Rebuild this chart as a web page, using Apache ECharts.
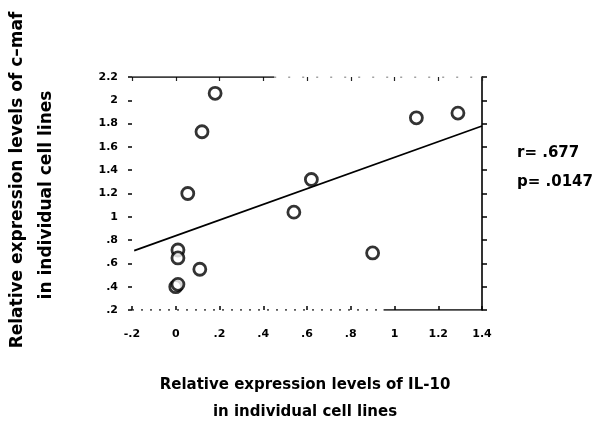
<!DOCTYPE html>
<html><head><meta charset="utf-8">
<script src="https://cdn.jsdelivr.net/npm/echarts@6/dist/echarts.min.js"></script>
<style>html,body{margin:0;padding:0;background:#fff}#c{width:610px;height:425px}</style>
</head><body><div id="c"></div>
<script>
// IL-10 (x) vs c-maf (y) expression levels
const ilX = [0.18, 0.12, 0.055, 0.54, 0.62, 0.01, 0.01, 0.0, 0.01, 0.11, 0.9, 1.1, 1.29];
const mafY = [2.06, 1.73, 1.2, 1.04, 1.32, 0.715, 0.647, 0.40, 0.42, 0.55, 0.69, 1.85, 1.89];
const fitX = [-0.19, 1.4];
const fitY = [0.71, 1.78];
const xTicks = [-0.2, 0, 0.2, 0.4, 0.6, 0.8, 1, 1.2, 1.4];
const yTicks = [0.2, 0.4, 0.6, 0.8, 1, 1.2, 1.4, 1.6, 1.8, 2, 2.2];
const statR = 'r= .677';
const statP = 'p= .0147';
const xTitle = ['Relative expression levels of IL-10', 'in individual cell lines'];
const yTitle = ['Relative expression levels of c\u2013maf', 'in individual cell lines'];

function fmt(v) {
  let r = Math.round(v * 10) / 10;
  let s = String(r);
  return s.replace(/^0\./, '.').replace(/^-0\./, '-.');
}
const pts = ilX.map((x, i) => [x, mafY[i]]);
const font = '"DejaVu Sans", "Liberation Sans", Arial, sans-serif';
const ink = '#000';
const chart = echarts.init(document.getElementById('c'), null, {renderer: 'canvas'});
chart.setOption({
  animation: false,
  backgroundColor: '#fff',
  grid: {left: 132, right: 128, top: 77, bottom: 115},
  xAxis: [{
    type: 'value', min: xTicks[0], max: xTicks[xTicks.length - 1], interval: 0.2,
    axisLine: {show: false, onZero: false}, splitLine: {show: false},
    axisTick: {show: true, inside: true, length: 4, lineStyle: {color: ink, width: 1.5}},
    axisLabel: {formatter: fmt, color: ink, fontFamily: font, fontWeight: 'bold', fontSize: 11, margin: 19}
  }, {
    type: 'value', position: 'top', min: xTicks[0], max: xTicks[xTicks.length - 1], interval: 0.2,
    axisLine: {show: false, onZero: false}, splitLine: {show: false},
    axisTick: {show: true, inside: true, length: 4, lineStyle: {color: '#222', width: 1.2}},
    axisLabel: {show: false}
  }],
  yAxis: [{
    type: 'value', min: yTicks[0], max: yTicks[yTicks.length - 1], interval: 0.2,
    axisLine: {show: false, onZero: false}, splitLine: {show: false},
    axisTick: {show: true, length: 4, lineStyle: {color: ink, width: 1.5}},
    axisLabel: {formatter: fmt, color: ink, fontFamily: font, fontWeight: 'bold', fontSize: 11, margin: 14}
  }, {
    type: 'value', position: 'right', min: yTicks[0], max: yTicks[yTicks.length - 1], interval: 0.2,
    axisLine: {show: true, onZero: false, lineStyle: {color: ink, width: 1.6}}, splitLine: {show: false},
    axisTick: {show: true, length: 5, lineStyle: {color: ink, width: 1.5}},
    axisLabel: {show: false}
  }],
  series: [
    {type: 'line', data: [[xTicks[0], yTicks[0]], [0.95, yTicks[0]]], symbol: 'none', silent: true,
     lineStyle: {color: '#222', width: 1.5, type: [2, 7]}},
    {type: 'line', data: [[0.95, yTicks[0]], [xTicks[xTicks.length - 1], yTicks[0]]], symbol: 'none', silent: true,
     lineStyle: {color: ink, width: 1.6}},
    {type: 'line', data: [[xTicks[0], yTicks[yTicks.length - 1]], [0.45, yTicks[yTicks.length - 1]]], symbol: 'none', silent: true,
     lineStyle: {color: ink, width: 1.3}},
    {type: 'line', data: [[0.45, yTicks[yTicks.length - 1]], [xTicks[xTicks.length - 1], yTicks[yTicks.length - 1]]], symbol: 'none', silent: true,
     lineStyle: {color: '#444', width: 1.2, type: [2, 12]}},
    {type: 'line', data: fitX.map((x, i) => [x, fitY[i]]), symbol: 'none', silent: true,
     lineStyle: {color: ink, width: 1.7}},
    {type: 'scatter', data: pts, symbol: 'circle', symbolSize: 12,
     itemStyle: {color: '#fff', borderColor: ink, borderWidth: 2.8}}
  ],
  graphic: [
    {type: 'text', x: 517, y: 153, style: {text: statR, font: 'bold 15px ' + font, fill: ink, verticalAlign: 'middle'}},
    {type: 'text', x: 517, y: 182, style: {text: statP, font: 'bold 15px ' + font, fill: ink, verticalAlign: 'middle'}},
    {type: 'text', x: 305, y: 385, style: {text: xTitle[0], font: 'bold 15px ' + font, fill: ink, align: 'center', verticalAlign: 'middle'}},
    {type: 'text', x: 305, y: 412, style: {text: xTitle[1], font: 'bold 15px ' + font, fill: ink, align: 'center', verticalAlign: 'middle'}},
    {type: 'text', x: 18, y: 180, rotation: Math.PI / 2, style: {text: yTitle[0], font: 'bold 17px ' + font, fill: ink, align: 'center', verticalAlign: 'middle'}},
    {type: 'text', x: 47, y: 195, rotation: Math.PI / 2, style: {text: yTitle[1], font: 'bold 17px ' + font, fill: ink, align: 'center', verticalAlign: 'middle'}}
  ]
});
</script></body></html>
